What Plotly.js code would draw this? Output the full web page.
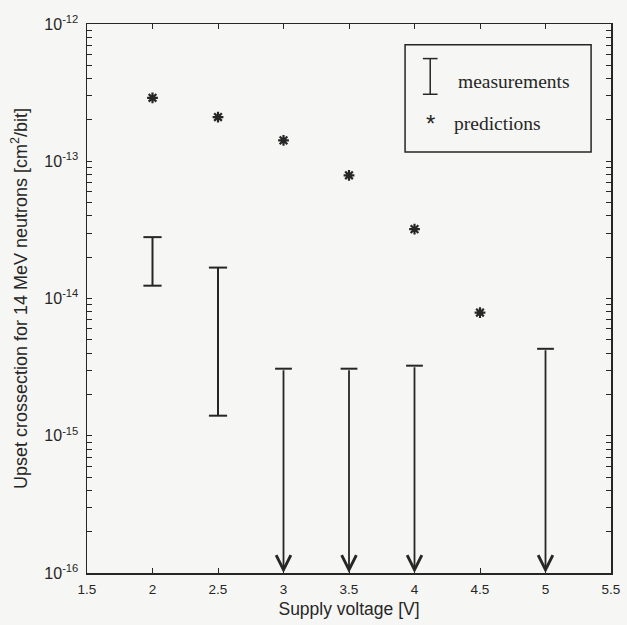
<!DOCTYPE html>
<html>
<head>
<meta charset="utf-8">
<script src="https://cdn.plot.ly/plotly-3.0.1.min.js"></script>
<style>
html,body{margin:0;padding:0;background:#f6f6f4;}
#chart{width:627px;height:625px;}
</style>
</head>
<body>
<div id="chart"></div>
<script>
// ---- data ----
var predVoltage = [2, 2.5, 3, 3.5, 4, 4.5];
var predictions = [2.9e-13, 2.1e-13, 1.42e-13, 7.9e-14, 3.2e-14, 7.9e-15];

// measured ranges (upper and lower bound)
var measVoltage = [2, 2.5];
var measUpper = [2.8e-14, 1.68e-14];
var measLower = [1.24e-14, 1.4e-15];

// upper limits only (arrows down)
var limitVoltage = [3, 3.5, 4, 5];
var limitUpper = [3.08e-15, 3.08e-15, 3.24e-15, 4.3e-15];

var xTicks = [1.5, 2, 2.5, 3, 3.5, 4, 4.5, 5, 5.5];
var yTickVals = [1e-16, 1e-15, 1e-14, 1e-13, 1e-12];
var yTickText = ['10<sup>-16</sup>', '10<sup>-15</sup>', '10<sup>-14</sup>', '10<sup>-13</sup>', '10<sup>-12</sup>'];

var yMin = 1e-16, yMax = 1e-12;

// ---- build traces ----
var ink = '#262626';
var mx = [], my = [];
for (var i = 0; i < measVoltage.length; i++) {
  mx.push(measVoltage[i], measVoltage[i], null);
  my.push(measLower[i], measUpper[i], null);
}
var measTrace = {
  x: mx, y: my, mode: 'lines+markers', type: 'scatter',
  line: {color: ink, width: 2},
  marker: {symbol: 'line-ew-open', size: 13, color: ink, line: {color: ink, width: 2}},
  showlegend: false, hoverinfo: 'skip'
};
var capTrace = {
  x: limitVoltage, y: limitUpper, mode: 'markers', type: 'scatter',
  marker: {symbol: 'line-ew-open', size: 12, color: ink, line: {color: ink, width: 2}},
  showlegend: false, hoverinfo: 'skip'
};
var predTrace = {
  x: predVoltage, y: predictions, mode: 'markers', type: 'scatter',
  marker: {symbol: 'asterisk-open', size: 9, color: ink, line: {color: ink, width: 2.2}},
  showlegend: false, hoverinfo: 'skip'
};

var annotations = [];
for (var j = 0; j < limitVoltage.length; j++) {
  annotations.push({
    x: limitVoltage[j], y: Math.log10(yMin), xref: 'x', yref: 'y',
    ax: limitVoltage[j], ay: Math.log10(limitUpper[j]), axref: 'x', ayref: 'y',
    text: '', showarrow: true, arrowhead: 5, arrowsize: 1.6, arrowwidth: 1.8, arrowcolor: ink
  });
}

// all y ticks: labelled decades plus unlabelled 2..9 x each decade
var allYTickVals = [], allYTickText = [];
for (var e = -16; e <= -12; e++) {
  allYTickVals.push(yTickVals[e + 16]);
  allYTickText.push(yTickText[e + 16]);
  if (e < -12) {
    for (var m = 2; m <= 9; m++) {
      allYTickVals.push(m * Math.pow(10, e));
      allYTickText.push('');
    }
  }
}

// ---- custom legend (boxed legend of the reference) ----
var shapes = [
  {type: 'rect', xref: 'paper', yref: 'paper', x0: 0.607, x1: 0.962, y0: 0.767, y1: 0.962,
   line: {color: ink, width: 1.5}, fillcolor: 'rgba(0,0,0,0)'},
  {type: 'line', xref: 'paper', yref: 'paper', x0: 0.655, x1: 0.655, y0: 0.872, y1: 0.937, line: {color: ink, width: 1.5}},
  {type: 'line', xref: 'paper', yref: 'paper', x0: 0.641, x1: 0.669, y0: 0.937, y1: 0.937, line: {color: ink, width: 1.5}},
  {type: 'line', xref: 'paper', yref: 'paper', x0: 0.641, x1: 0.669, y0: 0.872, y1: 0.872, line: {color: ink, width: 1.5}}
];
annotations.push(
  {xref: 'paper', yref: 'paper', x: 0.704, y: 0.896, xanchor: 'left', yanchor: 'middle', showarrow: false,
   text: 'measurements', font: {family: 'Liberation Serif, Times New Roman, serif', size: 19.5, color: ink}},
  {xref: 'paper', yref: 'paper', x: 0.655, y: 0.818, xanchor: 'center', yanchor: 'middle', showarrow: false,
   text: '*', font: {family: 'Liberation Sans, Arial, sans-serif', size: 24, color: ink}},
  {xref: 'paper', yref: 'paper', x: 0.697, y: 0.818, xanchor: 'left', yanchor: 'middle', showarrow: false,
   text: 'predictions', font: {family: 'Liberation Serif, Times New Roman, serif', size: 19.5, color: ink}}
);

var layout = {
  width: 627, height: 625,
  margin: {l: 87, r: 16, t: 24, b: 52},
  paper_bgcolor: '#f6f6f4', plot_bgcolor: '#f6f6f4',
  font: {family: 'Liberation Sans, Arial, sans-serif', size: 13, color: ink},
  showlegend: false,
  xaxis: {
    range: [1.5, 5.5], tickmode: 'array', tickvals: xTicks,
    ticktext: xTicks.map(function (v) { return String(v); }),
    ticks: 'inside', ticklen: 5, tickcolor: ink, tickwidth: 1,
    showline: true, linecolor: ink, linewidth: 1.5, mirror: 'ticks',
    showgrid: false, zeroline: false, ticklabelstandoff: 3,
    tickfont: {size: 13.5, color: ink},
    title: {text: 'Supply voltage [V]', font: {size: 17.5, color: ink}, standoff: 7}
  },
  yaxis: {
    type: 'log', range: [Math.log10(yMin), Math.log10(yMax)],
    tickmode: 'array', tickvals: allYTickVals, ticktext: allYTickText,
    ticks: 'inside', ticklen: 5, tickcolor: ink, tickwidth: 1,
    showline: true, linecolor: ink, linewidth: 1.5, mirror: 'ticks',
    showgrid: false, zeroline: false, ticklabelstandoff: 4,
    tickfont: {size: 16, color: ink},
    title: {text: 'Upset crossection for 14 MeV neutrons [cm<sup>2</sup>/bit]', font: {size: 18, color: ink}, standoff: 12}
  },
  shapes: shapes,
  annotations: annotations
};

Plotly.newPlot('chart', [measTrace, capTrace, predTrace], layout, {staticPlot: true, displayModeBar: false});
</script>
</body>
</html>
